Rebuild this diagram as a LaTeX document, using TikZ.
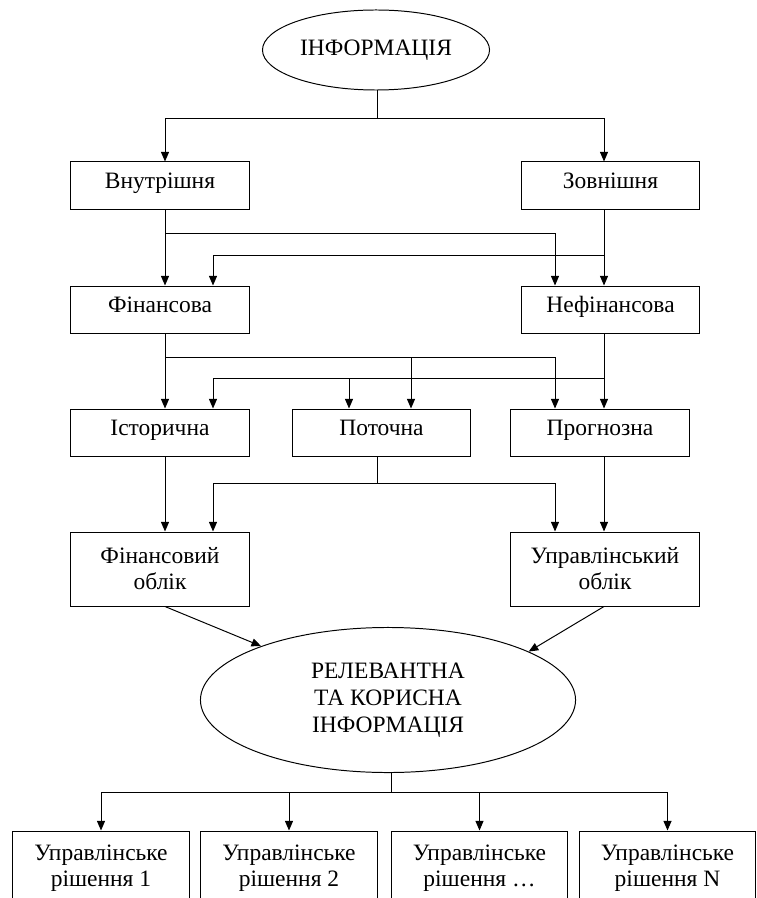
\documentclass[tikz,border=0pt]{standalone}
\usepackage{fontspec}
\setmainfont{Liberation Serif}
\usetikzlibrary{arrows.meta,shapes.geometric}

\begin{document}
\begin{tikzpicture}[x=.025cm,y=-.025cm,line width=.7pt,
   font=\fontsize{16.7}{18.5}\selectfont,
   >={Triangle[length=2.4mm,width=2mm]},
   plain/.style={draw,minimum width=4.45cm,inner sep=1pt},
   box/.style={plain,minimum height=1.175cm,text height=.7em,text depth=.22em},
   twobox/.style={plain,minimum height=1.85cm,align=center},
   oval/.style={draw,ellipse,inner sep=0pt,align=center}]
 \clip (0,0) rectangle (756,898);
 \node[oval,minimum width=5.675cm,minimum height=2cm] (top) at (376,50) {ІНФОРМАЦІЯ};
 \node[box] (vn) at (160,185.5) {Внутрішня};
 \node[box] (zv) at (610.5,185.5) {Зовнішня};
 \node[box] (fin) at (160,309.5) {Фінансова};
 \node[box] (nf) at (610.5,309.5) {Нефінансова};
 \node[box] (ist) at (160,432.5) {Історична};
 \node[box] (pot) at (381.5,432.5) {Поточна};
 \node[box] (prg) at (600,432.5) {Прогнозна};
 \node[twobox] (fo) at (160,569) {Фінансовий\\облік};
 \node[twobox,minimum width=4.7cm] (uo) at (605,569) {Управлінський\\облік};
 \node[oval,minimum width=9.375cm,minimum height=3.625cm,
   font=\fontsize{16.7}{19.2}\selectfont] (rel) at (388,700)
   {РЕЛЕВАНТНА\\ТА КОРИСНА\\ІНФОРМАЦІЯ};
 \foreach \n/\x/\t in {d1/101/1,d2/289/2,d3/479.5/…,d4/667.5/N}
   \node[twobox,minimum width=4.4cm] (\n) at (\x,868) {Управлінське\\рішення \t};
 \coordinate (xa) at (165,0);
 \coordinate (xb) at (213,0);
 \coordinate (xe) at (349,0);
 \coordinate (xf) at (411,0);
 \coordinate (xc) at (555,0);
 \coordinate (xd) at (604,0);
 \coordinate (b1) at (377,118);
 \coordinate (r1) at (555,233);
 \coordinate (l1) at (213,255);
 \coordinate (r2) at (555,357);
 \coordinate (l2) at (213,378);
 \coordinate (b5) at (377,483);
 \coordinate (b6) at (391,792);
 \draw (top.south -| b1) -- (b1);
 \draw[->] (b1) -| (vn.north -| xa);
 \draw[->] (b1) -| (zv.north -| xd);
 \draw[->] (vn.south -| xa) -- (fin.north -| xa);
 \draw[->] (vn.south -| xa) |- (r1) -- (nf.north -| xc);
 \draw[->] (zv.south -| xd) -- (nf.north -| xd);
 \draw[->] (zv.south -| xd) |- (l1) -- (fin.north -| xb);
 \draw[->] (fin.south -| xa) -- (ist.north -| xa);
 \draw[->] (fin.south -| xa) |- (r2) -- (prg.north -| xc);
 \draw[->] (r2 -| xf) -- (pot.north -| xf);
 \draw[->] (nf.south -| xd) -- (prg.north -| xd);
 \draw[->] (nf.south -| xd) |- (l2) -- (ist.north -| xb);
 \draw[->] (l2 -| xe) -- (pot.north -| xe);
 \draw[->] (ist.south -| xa) -- (fo.north -| xa);
 \draw[->] (prg.south -| xd) -- (uo.north -| xd);
 \draw (pot.south -| b5) -- (b5);
 \draw[->] (b5) -| (fo.north -| xb);
 \draw[->] (b5) -| (uo.north -| xc);
 \draw[->] (fo.south -| xa) -- (rel.157);
 \draw[->] (uo.south -| xd) -- (rel.19);
 \draw (rel.south -| b6) -- (b6);
 \foreach \n in {d1,d2,d3,d4}
   \draw[->] (b6) -| (\n.north);
\end{tikzpicture}
\end{document}
